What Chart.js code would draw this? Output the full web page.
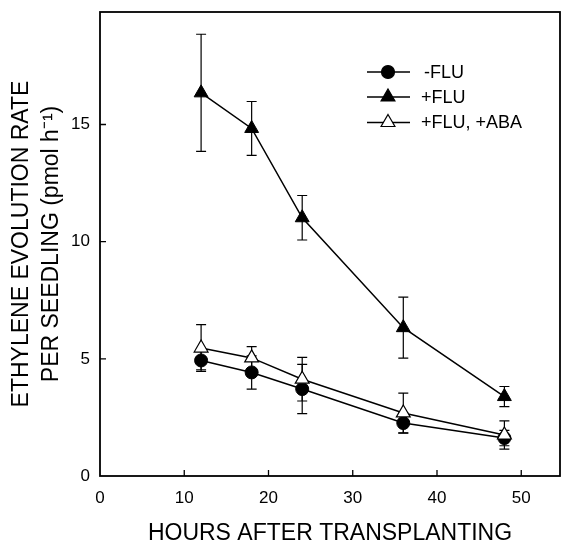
<!DOCTYPE html>
<html>
<head>
<meta charset="utf-8">
<script src="https://cdn.jsdelivr.net/npm/chart.js@4.4.0/dist/chart.umd.min.js"></script>
<style>
    html, body { margin: 0; padding: 0; background: #fff; }
    canvas { display: block; }
</style>
</head>
<body>
<canvas id="chart1" width="561" height="547"></canvas>
<script>
// data
var hours = [12, 18, 24, 36, 48];
var minusFlu = [4.93, 4.42, 3.71, 2.26, 1.62];
var minusFluErr = [0.4, 0.71, 1.05, 0.43, 0.33];
var plusFlu = [16.35, 14.83, 11.02, 6.33, 3.39];
var plusFluErr = [2.5, 1.15, 0.95, 1.3, 0.43];
var plusFluAba = [5.46, 5.04, 4.13, 2.69, 1.75];
var plusFluAbaErr = [1.0, 0.48, 0.93, 0.85, 0.6];
var seriesNames = ['-FLU', '+FLU', '+FLU, +ABA'];
var xTicks = [0, 10, 20, 30, 40, 50];
var yTicks = [0, 5, 10, 15];

var fontFam = '"Liberation Sans", Arial, Helvetica, sans-serif';

function toPoints(ys) {
    return hours.map(function (h, i) { return { x: h, y: ys[i] }; });
}

// error bars start
var errorBars = {
    id: 'errorBars',
    beforeDatasetsDraw: function (chart) {
        var ctx = chart.ctx, xs = chart.scales.x, ys = chart.scales.y;
        ctx.save();
        ctx.strokeStyle = '#000';
        ctx.lineWidth = 1.2;
        chart.data.datasets.forEach(function (ds) {
            ds.data.forEach(function (p, i) {
                var e = ds.err[i];
                var px = xs.getPixelForValue(p.x);
                var top = ys.getPixelForValue(p.y + e);
                var bot = ys.getPixelForValue(p.y - e);
                ctx.beginPath();
                ctx.moveTo(px, top); ctx.lineTo(px, bot);
                ctx.moveTo(px - 5, top); ctx.lineTo(px + 5, top);
                ctx.moveTo(px - 5, bot); ctx.lineTo(px + 5, bot);
                ctx.stroke();
            });
        });
        ctx.restore();
    }
};
// error bars end

// frame, inward ticks and legend start
var frameAndLegend = {
    id: 'frameAndLegend',
    afterDraw: function (chart) {
        var ctx = chart.ctx, a = chart.chartArea;
        var xs = chart.scales.x, ys = chart.scales.y;
        ctx.save();
        ctx.strokeStyle = '#000';
        ctx.lineWidth = 1.8;
        ctx.strokeRect(a.left, a.top, a.right - a.left, a.bottom - a.top);

        ctx.lineWidth = 1.3;
        ctx.beginPath();
        xTicks.slice(1).forEach(function (v) {
            var px = xs.getPixelForValue(v);
            ctx.moveTo(px, a.bottom); ctx.lineTo(px, a.bottom - 6);
        });
        yTicks.slice(1).forEach(function (v) {
            var py = ys.getPixelForValue(v);
            ctx.moveTo(a.left, py); ctx.lineTo(a.left + 6, py);
        });
        ctx.stroke();

        // legend inside the plot
        var rows = [72, 97, 122.5];
        ctx.font = '18px ' + fontFam;
        ctx.textBaseline = 'middle';
        ctx.textAlign = 'left';
        chart.data.datasets.forEach(function (ds, i) {
            var y = rows[i];
            ctx.strokeStyle = '#000';
            ctx.lineWidth = 1.5;
            ctx.beginPath();
            ctx.moveTo(367, y); ctx.lineTo(410, y);
            ctx.stroke();
            ctx.fillStyle = ds.pointBackgroundColor;
            ctx.lineWidth = 1.2;
            Chart.helpers.drawPoint(ctx, {
                pointStyle: ds.pointStyle, radius: ds.pointRadius,
                rotation: 0, borderWidth: 1.2
            }, 388, y);
            ctx.fillStyle = '#000';
            ctx.fillText(seriesNames[i], i === 0 ? 424 : 421, y + 1);
        });
        ctx.restore();
    }
};
// frame, inward ticks and legend end

new Chart('chart1', {
    type: 'line',
    data: {
        datasets: [{
            label: seriesNames[0],
            data: toPoints(minusFlu),
            err: minusFluErr,
            borderColor: '#000',
            borderWidth: 1.5,
            pointStyle: 'circle',
            pointRadius: 6.5,
            pointBackgroundColor: '#000',
            pointBorderColor: '#000',
            pointBorderWidth: 1,
            order: 3
        }, {
            label: seriesNames[1],
            data: toPoints(plusFlu),
            err: plusFluErr,
            borderColor: '#000',
            borderWidth: 1.5,
            pointStyle: 'triangle',
            pointRadius: 8,
            pointBackgroundColor: '#000',
            pointBorderColor: '#000',
            pointBorderWidth: 1,
            order: 2
        }, {
            label: seriesNames[2],
            data: toPoints(plusFluAba),
            err: plusFluAbaErr,
            borderColor: '#000',
            borderWidth: 1.5,
            pointStyle: 'triangle',
            pointRadius: 8,
            pointBackgroundColor: '#fff',
            pointBorderColor: '#000',
            pointBorderWidth: 1.2,
            order: 1
        }]
    },
    options: {
        responsive: false,
        animation: false,
        layout: { autoPadding: false, padding: { top: 12, right: 1, left: 0, bottom: 0 } },
        plugins: {
            legend: { display: false },
            tooltip: { enabled: false }
        },
        scales: {
            x: {
                type: 'linear',
                min: 0,
                max: 54.6,
                afterBuildTicks: function (scale) {
                    scale.ticks = xTicks.map(function (v) { return { value: v }; });
                },
                afterFit: function (scale) {
                    scale.height = 71;
                    scale.paddingLeft = 0;
                    scale.paddingRight = 0;
                },
                grid: { display: false, drawTicks: false },
                border: { display: false },
                ticks: { color: '#000', padding: 12, maxRotation: 0, font: { family: fontFam, size: 17 } },
                title: {
                    display: true,
                    text: 'HOURS AFTER TRANSPLANTING',
                    color: '#000',
                    padding: 0,
                    font: { family: fontFam, size: 23, lineHeight: 1.2 }
                }
            },
            y: {
                min: 0,
                max: 19.8,
                afterBuildTicks: function (scale) {
                    scale.ticks = yTicks.map(function (v) { return { value: v }; });
                },
                afterFit: function (scale) {
                    scale.width = 100;
                    scale.paddingTop = 0;
                    scale.paddingBottom = 0;
                },
                grid: { display: false, drawTicks: false },
                border: { display: false },
                ticks: { color: '#000', padding: 10, font: { family: fontFam, size: 17 } },
                title: {
                    display: true,
                    text: ['ETHYLENE EVOLUTION RATE', 'PER SEEDLING (pmol h\u207B\u00B9)'],
                    color: '#000',
                    padding: { top: 7, bottom: 0 },
                    font: { family: fontFam, size: 23, lineHeight: 1.3 }
                }
            }
        }
    },
    plugins: [errorBars, frameAndLegend]
});
</script>
</body>
</html>
